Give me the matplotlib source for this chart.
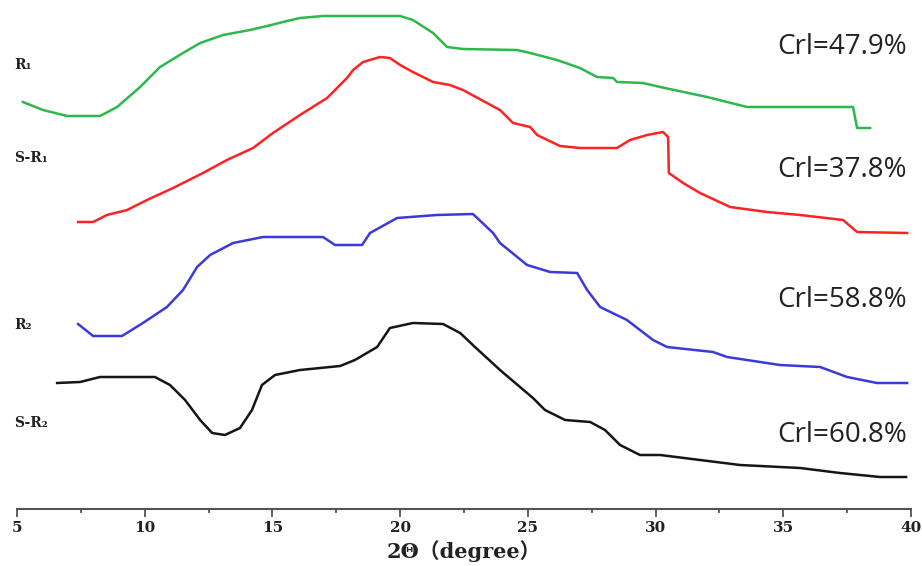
import numpy as np
import matplotlib
matplotlib.use("Agg")
import matplotlib.pyplot as plt
from matplotlib.ticker import MultipleLocator

# XRD patterns, 2theta in degrees, intensity in arbitrary units (curves stacked)
r1_x = [5.23, 6.02, 6.96, 8.25, 8.92, 9.82, 10.60, 11.50, 12.17, 13.07,
        14.12, 14.79, 15.57, 16.08, 16.98, 20.00, 20.50, 21.29, 21.84, 22.46,
        24.58, 25.09, 26.14, 27.04, 27.71, 28.34, 28.49, 29.51, 30.18, 32.02,
        33.58, 37.73, 37.89, 38.40]
r1_y = [407, 399, 393, 393, 402, 422, 442, 456, 466, 474,
        479, 483, 488, 491, 493, 493, 489, 476, 462, 460,
        459, 456, 449, 441, 432, 431, 427, 426, 422, 412,
        402, 402, 381, 381]

sr1_x = [7.39, 7.98, 8.52, 9.31, 10.09, 11.11, 12.28, 13.22, 14.24, 15.02,
         16.08, 17.14, 17.92, 18.16, 18.55, 19.21, 19.60, 20.00, 20.50, 21.29,
         21.95, 22.46, 23.40, 23.91, 24.42, 25.09, 25.36, 26.26, 27.04, 28.49,
         29.00, 29.67, 30.29, 30.49, 30.52, 31.08, 31.74, 32.92, 34.37, 35.66,
         37.34, 37.89, 39.85]
sr1_y = [287, 287, 294, 299, 309, 321, 336, 349, 361, 376,
         394, 411, 431, 439, 447, 452, 451, 444, 437, 427,
         424, 419, 406, 399, 386, 382, 374, 363, 361, 361,
         369, 374, 377, 372, 336, 326, 316, 302, 297, 294,
         289, 277, 276]

r2_x = [7.39, 7.98, 9.11, 9.93, 10.87, 11.50, 12.05, 12.56, 13.46, 14.63,
        16.98, 17.45, 18.51, 18.82, 19.88, 21.44, 22.85, 23.64, 23.91, 24.97,
        25.87, 26.93, 27.32, 27.83, 28.88, 29.90, 30.45, 32.25, 32.80, 34.87,
        36.44, 37.50, 38.67, 39.85]
r2_y = [185, 173, 173, 186, 202, 219, 242, 254, 266, 272,
        272, 264, 264, 276, 291, 294, 295, 276, 266, 244,
        237, 236, 219, 202, 189, 169, 162, 157, 152, 144,
        142, 132, 126, 126]

sr2_x = [6.57, 7.47, 8.25, 10.40, 10.99, 11.58, 12.17, 12.64, 13.14, 13.73,
         14.20, 14.59, 15.10, 16.08, 17.65, 18.23, 19.10, 19.60, 20.50, 21.68,
         22.35, 22.93, 23.91, 25.20, 25.67, 26.46, 27.44, 28.02, 28.61, 29.39,
         30.18, 31.74, 33.31, 35.66, 37.22, 38.79, 39.81]
sr2_y = [126, 127, 132, 132, 124, 109, 89, 76, 74, 81,
         99, 124, 134, 139, 143, 149, 162, 181, 186, 185,
         176, 162, 139, 111, 99, 89, 87, 79, 64, 54,
         54, 49, 44, 41, 36, 32, 32]

names = ["R\u2081", "S-R\u2081", "R\u2082", "S-R\u2082"]
name_y = [444, 351, 184, 86]
crl = ["Crl=47.9%", "Crl=37.8%", "Crl=58.8%", "Crl=60.8%"]
crl_y = [462, 339, 209, 74]

serif = ["DejaVu Serif", "Noto Sans CJK SC"]

fig = plt.figure(figsize=(9.22, 5.66), dpi=100)
ax = fig.add_axes([17 / 922, 57 / 566, 894 / 922, 509 / 566])

ax.plot(r1_x, r1_y, color="#2cb84c", lw=1.8)
ax.plot(sr1_x, sr1_y, color="#ff2222", lw=1.8)
ax.plot(r2_x, r2_y, color="#3a3ad8", lw=1.8)
ax.plot(sr2_x, sr2_y, color="#151515", lw=1.8)

ax.set_xlim(5, 40)
ax.set_ylim(0, 509)

for s in ["left", "right", "top"]:
    ax.spines[s].set_visible(False)
ax.spines["bottom"].set_color("#555555")
ax.spines["bottom"].set_linewidth(1.5)
ax.set_yticks([])

ax.xaxis.set_major_locator(MultipleLocator(5))
ax.xaxis.set_minor_locator(MultipleLocator(2.5))
ax.tick_params(axis="x", which="major", direction="out", length=6, width=1.3,
               color="#555555", pad=3)
ax.tick_params(axis="x", which="minor", direction="out", length=3, width=1.3,
               color="#555555")
for lab in ax.get_xticklabels():
    lab.set_fontfamily(serif)
    lab.set_fontweight("bold")
    lab.set_fontsize(11)
    lab.set_color("#222222")

ax.set_xlabel("2\u0398\uff08degree\uff09", fontsize=15, fontweight="bold",
              family=serif, color="#222222")
ax.xaxis.set_label_coords(0.5, -0.062)

for n, y in zip(names, name_y):
    ax.text(4.9, y, n, fontsize=10, fontweight="bold", family=serif,
            ha="left", va="center", clip_on=False, color="#222222")

for t, y in zip(crl, crl_y):
    ax.text(39.85, y, t, fontsize=20, family=["Open Sans", "DejaVu Sans"],
            ha="right", va="center", color="#222222")

fig.savefig("out.png", dpi=100)
